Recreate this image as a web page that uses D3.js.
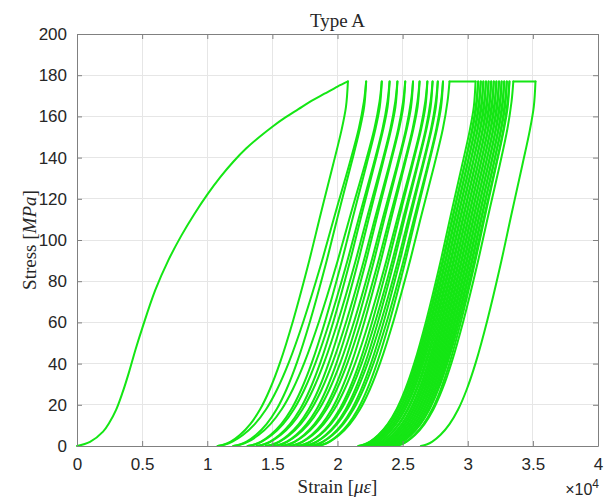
<!DOCTYPE html>
<html>
<head>
<meta charset="utf-8">
<script src="https://cdn.jsdelivr.net/npm/d3@7"></script>
<style>
  html, body { margin: 0; padding: 0; background: #fff; }
  svg { display: block; }
</style>
</head>
<body>
<svg id="chart" width="605" height="500"></svg>
<script>
// Strain values are in units of 10^4 microstrain, stress in MPa.

// Monotonic first loading branch
const monoStrain = [0, 0.1, 0.2, 0.25, 0.3, 0.35, 0.4, 0.45, 0.5, 0.6, 0.7, 0.8, 0.9, 1.0, 1.1, 1.2, 1.3, 1.4, 1.5, 1.6, 1.7, 1.8, 1.9, 2.0, 2.08];
const monoStress = [0, 2.0, 7.0, 11.5, 17.5, 26, 36, 47, 57, 75.5, 90, 102, 112.5, 122, 130.5, 138, 144.5, 150, 155, 159.5, 163.5, 167.5, 171, 174.5, 177];

// Shape of an unloading branch, normalised between valley (0) and top (1)
const unloadU = [0, 0.05, 0.1, 0.17, 0.25, 0.325, 0.4, 0.48, 0.58, 0.69, 0.79, 0.885, 0.95, 0.985, 1];
const unloadS = [0, 0.004, 0.012, 0.03, 0.06, 0.10, 0.155, 0.23, 0.345, 0.49, 0.635, 0.77, 0.865, 0.93, 1];
// Shape of a reloading branch
const reloadU = [0, 0.05, 0.1, 0.17, 0.25, 0.325, 0.4, 0.48, 0.58, 0.69, 0.79, 0.885, 0.95, 0.985, 1];
const reloadS = [0, 0.004, 0.012, 0.03, 0.06, 0.10, 0.155, 0.23, 0.345, 0.49, 0.635, 0.77, 0.87, 0.945, 1];

// Stress cap reached at every top
const capStress = 177;

// Strain where each cycle reaches the cap, and where it starts unloading
const topReached = [2.08, 2.22, 2.34, 2.40, 2.46, 2.52, 2.58, 2.63, 2.69, 2.73, 2.77, 2.81, 2.86,
  3.08, 3.10, 3.12, 3.14, 3.16, 3.18, 3.20, 3.22, 3.24, 3.26, 3.28, 3.30, 3.32, 3.35];
const topLeft = [2.08, 2.22, 2.34, 2.40, 2.46, 2.52, 2.58, 2.63, 2.69, 2.73, 2.77, 2.81, 3.06,
  3.08, 3.10, 3.12, 3.14, 3.16, 3.18, 3.20, 3.22, 3.24, 3.26, 3.28, 3.30, 3.32, 3.52];
// Residual strain at zero stress after each unloading
const valleys = [1.08, 1.20, 1.31, 1.38, 1.45, 1.51, 1.57, 1.63, 1.69, 1.74, 1.79, 1.84, 2.16,
  2.18, 2.20, 2.22, 2.245, 2.27, 2.29, 2.31, 2.33, 2.35, 2.37, 2.39, 2.41, 2.44, 2.64];

// Axis ticks
const xTicks = [0, 0.5, 1, 1.5, 2, 2.5, 3, 3.5, 4];
const xTickLabels = ["0", "0.5", "1", "1.5", "2", "2.5", "3", "3.5", "4"];
const yTicks = [0, 20, 40, 60, 80, 100, 120, 140, 160, 180, 200];

const svg = d3.select("#chart");
const L = 77, R = 598, T = 34, B = 446;

const x = d3.scaleLinear().domain([0, 4]).range([L, R]);
const y = d3.scaleLinear().domain([0, 200]).range([B, T]);

const axisColor = "#808080";
const textColor = "#262626";
const sans = "'Liberation Sans', Arial, Helvetica, sans-serif";
const serif = "'Liberation Serif', 'Times New Roman', serif";

// Grid
const grid = svg.append("g");
grid.selectAll(".gx").data(xTicks.slice(1, -1)).join("line")
  .attr("x1", d => x(d)).attr("x2", d => x(d)).attr("y1", T).attr("y2", B)
  .attr("stroke", "#e6e6e6").attr("stroke-width", 1).attr("shape-rendering", "crispEdges");
grid.selectAll(".gy").data(yTicks.slice(1, -1)).join("line")
  .attr("x1", L).attr("x2", R).attr("y1", d => y(d)).attr("y2", d => y(d))
  .attr("stroke", "#e6e6e6").attr("stroke-width", 1).attr("shape-rendering", "crispEdges");

// Curves
const plot = svg.append("g");
const line = d3.line().x(d => x(d[0])).y(d => y(d[1])).curve(d3.curveCatmullRom.alpha(0.5));
const green = "#14e614";

function branch(valley, top, us, ss) {
  return us.map((u, i) => [valley + u * (top - valley), ss[i] * capStress]);
}

const segments = [];
segments.push(monoStrain.map((s, i) => [s, monoStress[i]]));
topReached.forEach((tr, i) => {
  if (i > 0) segments.push(branch(valleys[i - 1], tr, reloadU, reloadS));      // reload
  if (topLeft[i] > tr) segments.push([[tr, capStress], [topLeft[i], capStress]]); // hold at cap
  segments.push(branch(valleys[i], topLeft[i], unloadU, unloadS));             // unload
});

plot.selectAll("path").data(segments).join("path")
  .attr("d", d => line(d))
  .attr("fill", "none")
  .attr("stroke", green)
  .attr("stroke-width", 2)
  .attr("stroke-linejoin", "round")
  .attr("stroke-linecap", "round");

// Axes box and ticks (ticks inside on all sides)
const xAxisB = d3.axisBottom(x).tickValues(xTicks).tickSizeInner(-5).tickSizeOuter(0)
  .tickFormat((d, i) => xTickLabels[i]).tickPadding(12);
const xAxisT = d3.axisTop(x).tickValues(xTicks).tickSizeInner(-5).tickSizeOuter(0).tickFormat("");
const yAxisL = d3.axisLeft(y).tickValues(yTicks).tickSizeInner(-5).tickSizeOuter(0).tickPadding(10);
const yAxisR = d3.axisRight(y).tickValues(yTicks).tickSizeInner(-5).tickSizeOuter(0).tickFormat("");

function style(g) {
  g.select(".domain").attr("stroke", axisColor);
  g.selectAll(".tick line").attr("stroke", axisColor);
  g.selectAll(".tick text").attr("fill", textColor).attr("font-family", sans).attr("font-size", 17);
}
svg.append("g").attr("transform", `translate(0,${B})`).call(xAxisB).call(style);
svg.append("g").attr("transform", `translate(0,${T})`).call(xAxisT).call(style);
svg.append("g").attr("transform", `translate(${L},0)`).call(yAxisL).call(style);
svg.append("g").attr("transform", `translate(${R},0)`).call(yAxisR).call(style);

// Title
svg.append("text").attr("x", (L + R) / 2).attr("y", 27).attr("text-anchor", "middle")
  .attr("font-family", serif).attr("font-size", 19).attr("fill", textColor).text("Type A");

// X label
const xl = svg.append("text").attr("x", (L + R) / 2).attr("y", 493).attr("text-anchor", "middle")
  .attr("font-family", serif).attr("font-size", 19).attr("fill", textColor);
xl.append("tspan").text("Strain [");
xl.append("tspan").attr("font-style", "italic").text("με");
xl.append("tspan").text("]");

// Y label
const yl = svg.append("text").attr("transform", `translate(36,${(T + B) / 2}) rotate(-90)`)
  .attr("text-anchor", "middle").attr("font-family", serif).attr("font-size", 19).attr("fill", textColor);
yl.append("tspan").text("Stress [");
yl.append("tspan").attr("font-style", "italic").text("MPa");
yl.append("tspan").text("]");

// Exponent label
const ex = svg.append("text").attr("x", 599).attr("y", 495).attr("text-anchor", "end")
  .attr("font-family", sans).attr("font-size", 16).attr("fill", textColor);
ex.append("tspan").text("×10");
ex.append("tspan").attr("font-size", 12).attr("dy", -7).text("4");
</script>
</body>
</html>
